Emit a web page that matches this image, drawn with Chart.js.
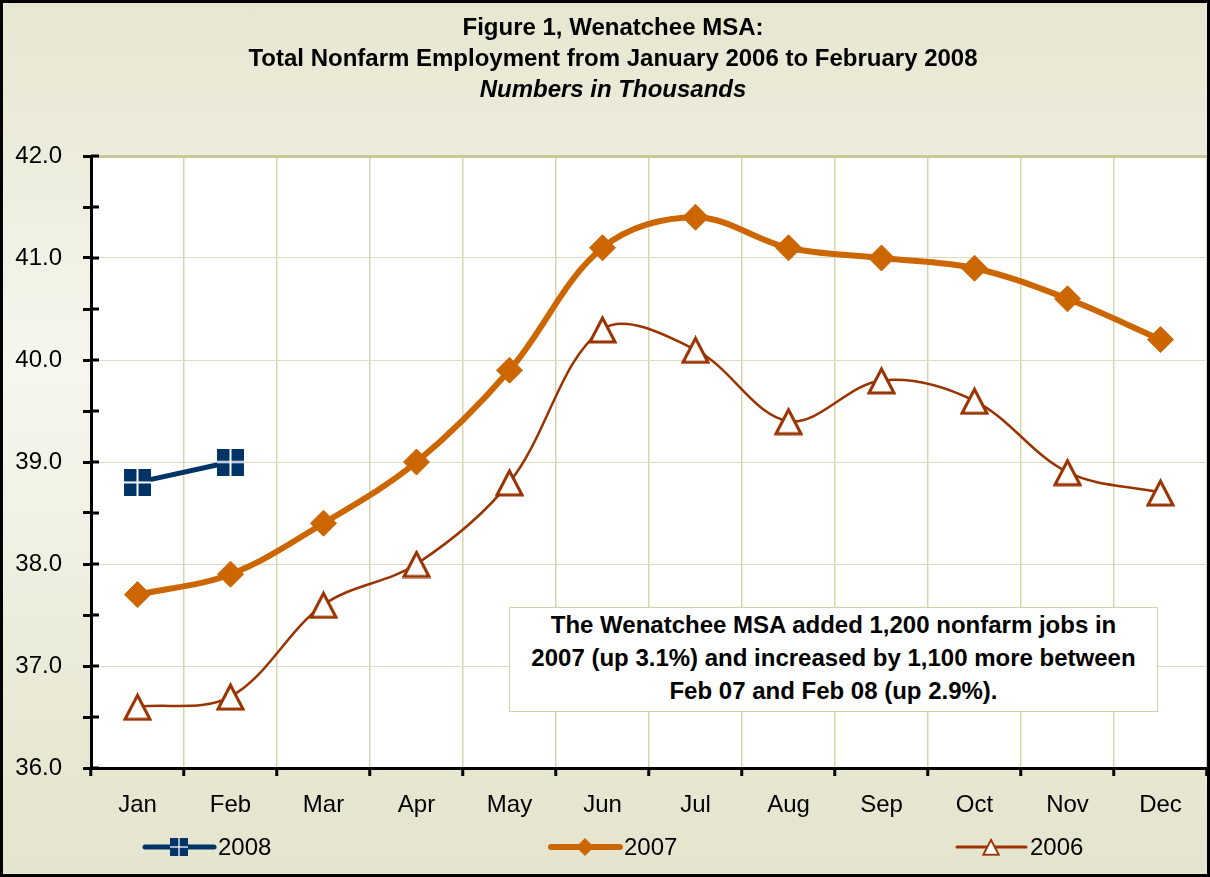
<!DOCTYPE html>
<html>
<head>
<meta charset="utf-8">
<script src="https://cdn.jsdelivr.net/npm/chart.js@4.4.1/dist/chart.umd.min.js"></script>
<style>
  body { margin: 0; background: #fff; }
  #wrap {
    position: relative; width: 1210px; height: 877px; box-sizing: border-box;
    border: 3px solid #000;
    background: linear-gradient(to bottom, #e7e6d0 0%, #eeeee0 22%, #f6f6ee 42%, #f0f0e3 62%, #e7e7d2 85%, #e5e5cf 100%);
    font-family: "Liberation Sans", Arial, sans-serif;
  }
  #chart { position: absolute; left: 0; top: 0; }
  #title {
    position: absolute; left: 0; top: 8px; width: 1204px; padding-left: 16px; box-sizing: border-box;
    text-align: center; font-weight: bold; font-size: 24px; line-height: 31px; color: #000;
  }
  #note {
    position: absolute; left: 506px; top: 604px; width: 649px; height: 105px; box-sizing: border-box;
    border: 1.5px solid #d2d2a8; background: #fff;
    text-align: center; font-weight: bold; font-size: 24px; line-height: 33px; color: #000;
  }
</style>
</head>
<body>
<div id="wrap">
  <canvas id="chart" width="1204" height="871"></canvas>
  <div id="title">Figure 1, Wenatchee MSA:<br>Total Nonfarm Employment from January 2006 to February 2008<br><i>Numbers in Thousands</i></div>
  <div id="note">The Wenatchee MSA added 1,200 nonfarm jobs in<br>2007 (up 3.1%) and increased by 1,100 more between<br>Feb 07 and Feb 08 (up 2.9%).</div>
</div>
<script>
// data, in thousands
const months = ['Jan', 'Feb', 'Mar', 'Apr', 'May', 'Jun', 'Jul', 'Aug', 'Sep', 'Oct', 'Nov', 'Dec'];
const jobs2008 = [38.8, 39.0];
const jobs2007 = [37.7, 37.9, 38.4, 39.0, 39.9, 41.1, 41.4, 41.1, 41.0, 40.9, 40.6, 40.2];
const jobs2006 = [36.6, 36.7, 37.6, 38.0, 38.8, 40.3, 40.1, 39.4, 39.8, 39.6, 38.9, 38.7];
const yMin = 36;
const yMax = 42;
const yStep = 0.5;

const NAVY = '#003366';
const ORANGE = '#cc6600';
const RUST = '#993300';
const FONT = '"Liberation Sans", Arial, sans-serif';

// square marker with white cross (2008)
function crossSquare(size) {
    const c = document.createElement('canvas');
    c.width = size; c.height = size;
    const g = c.getContext('2d');
    g.fillStyle = NAVY;
    g.fillRect(0, 0, size, size);
    g.fillStyle = '#fff';
    const m = size / 2;
    g.fillRect(m - 1, 0, 2, size);
    g.fillRect(0, m - 1, size, 2);
    return c;
}

// hollow triangle marker (2006)
function hollowTriangle(size) {
    const c = document.createElement('canvas');
    c.width = size; c.height = size;
    const g = c.getContext('2d');
    g.beginPath();
    g.moveTo(size / 2, 3);
    g.lineTo(size - 2, size - 2);
    g.lineTo(2, size - 2);
    g.closePath();
    g.fillStyle = '#fff';
    g.fill();
    g.strokeStyle = RUST;
    g.lineWidth = 3;
    g.stroke();
    return c;
}

const squareMark = crossSquare(27);
const triMark = hollowTriangle(29);

const isWhole = v => Math.abs(v - Math.round(v)) < 1e-6;

// white plot area
const plotBg = {
    id: 'plotBg',
    beforeDraw(chart) {
        const a = chart.chartArea, ctx = chart.ctx;
        ctx.save();
        ctx.fillStyle = '#fff';
        ctx.fillRect(a.left, a.top, a.right - a.left, a.bottom - a.top);
        ctx.restore();
    }
};

// y tick marks cross the axis in the original, add the inner half
const innerTicks = {
    id: 'innerTicks',
    afterDraw(chart) {
        const y = chart.scales.y, ctx = chart.ctx;
        const x = chart.chartArea.left;
        ctx.save();
        ctx.strokeStyle = '#000';
        ctx.lineWidth = 3;
        y.ticks.forEach(t => {
            const py = Math.round(y.getPixelForValue(t.value));
            ctx.beginPath();
            ctx.moveTo(x, py);
            ctx.lineTo(x + 8, py);
            ctx.stroke();
        });
        ctx.restore();
    }
};

// legend drawn like the excel one: line + marker + label, spread out
const legendBar = {
    id: 'legendBar',
    afterDraw(chart) {
        const ctx = chart.ctx;
        const y = 844;
        const items = [
            { label: '2008', color: NAVY, width: 5, mark: 'square' },
            { label: '2007', color: ORANGE, width: 6, mark: 'diamond' },
            { label: '2006', color: RUST, width: 3, mark: 'triangle' }
        ];
        ctx.save();
        items.forEach((it, i) => {
            const x0 = 142 + i * 406;
            const cx = x0 + 34;
            ctx.strokeStyle = it.color;
            ctx.lineWidth = it.width;
            ctx.lineCap = 'round';
            ctx.beginPath();
            ctx.moveTo(x0, y);
            ctx.lineTo(x0 + 69, y);
            ctx.stroke();
            if (it.mark === 'square') {
                ctx.drawImage(squareMark, cx - 9, y - 9, 18, 18);
            } else if (it.mark === 'triangle') {
                ctx.drawImage(triMark, cx - 9, y - 9, 18, 18);
            } else {
                ctx.fillStyle = it.color;
                ctx.beginPath();
                ctx.moveTo(cx, y - 9);
                ctx.lineTo(cx + 9, y);
                ctx.lineTo(cx, y + 9);
                ctx.lineTo(cx - 9, y);
                ctx.closePath();
                ctx.fill();
            }
            ctx.fillStyle = '#000';
            ctx.font = '24px ' + FONT;
            ctx.textBaseline = 'middle';
            ctx.textAlign = 'left';
            ctx.fillText(it.label, x0 + 73, y + 1);
        });
        ctx.restore();
    }
};

new Chart(document.getElementById('chart'), {
    type: 'line',
    data: {
        labels: months,
        datasets: [
            {
                label: '2008',
                data: jobs2008,
                borderColor: NAVY,
                borderWidth: 5,
                tension: 0,
                pointStyle: squareMark,
                pointRadius: 14
            },
            {
                label: '2007',
                data: jobs2007,
                borderColor: ORANGE,
                backgroundColor: ORANGE,
                borderWidth: 6,
                tension: 0.35,
                pointStyle: 'rectRot',
                pointRadius: 13,
                pointBorderWidth: 1,
                pointBackgroundColor: ORANGE,
                pointBorderColor: ORANGE
            },
            {
                label: '2006',
                data: jobs2006,
                borderColor: RUST,
                borderWidth: 2.5,
                tension: 0.35,
                pointStyle: triMark,
                pointRadius: 14
            }
        ]
    },
    options: {
        responsive: false,
        animation: false,
        devicePixelRatio: 1,
        layout: { autoPadding: false, padding: { top: 153, left: 0, right: 0, bottom: 0 } },
        plugins: {
            legend: { display: false },
            title: { display: false },
            tooltip: { enabled: false }
        },
        scales: {
            x: {
                offset: true,
                grid: {
                    offset: true,
                    color: ctx => ctx.index === 0 ? 'rgba(0,0,0,0)' : '#d6d6ae',
                    lineWidth: 1.5,
                    tickColor: '#000',
                    tickWidth: 3,
                    tickLength: 8
                },
                border: { color: '#000', width: 3 },
                ticks: {
                    color: '#000',
                    font: { size: 24, family: FONT },
                    padding: 15,
                    maxRotation: 0,
                    autoSkip: false
                },
                afterFit: s => { s.height = 106; }
            },
            y: {
                min: yMin,
                max: yMax,
                grid: {
                    color: ctx => {
                        const v = ctx.tick.value;
                        if (!isWhole(v) || v === yMin) return 'rgba(0,0,0,0)';
                        if (v === yMax) return '#c8c898';
                        return '#dcdcc2';
                    },
                    lineWidth: ctx => ctx.tick.value === yMax ? 3 : 1,
                    tickColor: '#000',
                    tickWidth: 3,
                    tickLength: 8
                },
                border: { color: '#000', width: 3 },
                ticks: {
                    stepSize: yStep,
                    autoSkip: false,
                    color: '#000',
                    font: { size: 24, family: FONT },
                    padding: 21,
                    callback: v => isWhole(v) ? v.toFixed(1) : ''
                },
                afterFit: s => { s.width = 88; }
            }
        }
    },
    plugins: [plotBg, innerTicks, legendBar]
});
</script>
</body>
</html>
